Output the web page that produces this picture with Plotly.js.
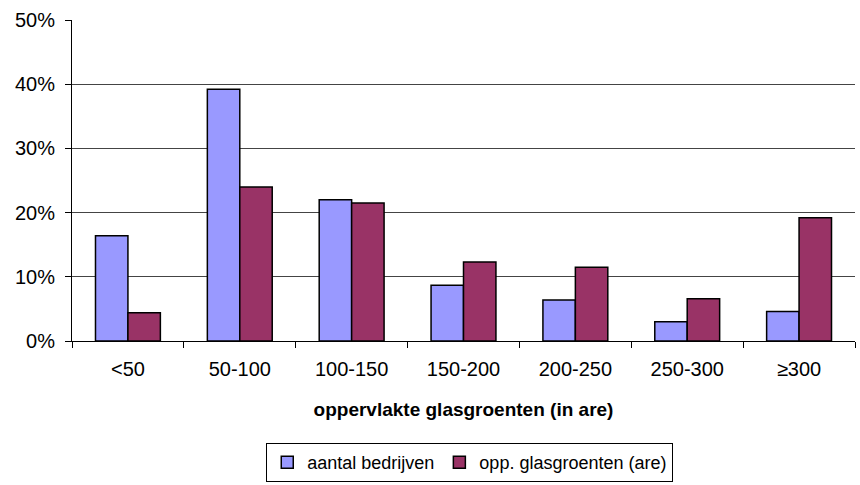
<!DOCTYPE html>
<html>
<head>
<meta charset="utf-8">
<script src="https://cdn.plot.ly/plotly-3.0.1.min.js"></script>
<style>html,body{margin:0;padding:0;background:#fff;}#chart{width:860px;height:485px;}</style>
</head>
<body>
<div id="chart"></div>
<script>
var categories = ['<50', '50-100', '100-150', '150-200', '200-250', '250-300', '≥300'];
var aantalBedrijven = [0.164, 0.392, 0.220, 0.087, 0.064, 0.030, 0.046];
var oppGlasgroenten = [0.044, 0.240, 0.215, 0.123, 0.115, 0.066, 0.192];
var seriesNames = ['aantal bedrijven', 'opp. glasgroenten (are)'];
var yTickVals = [0, 0.1, 0.2, 0.3, 0.4, 0.5];
var yTickText = ['0%', '10%', '20%', '30%', '40%', '50%'];

var traces = [
  {type: 'bar', name: seriesNames[0], x: categories, y: aantalBedrijven,
   marker: {color: '#9999ff', line: {color: '#000', width: 1.5}}},
  {type: 'bar', name: seriesNames[1], x: categories, y: oppGlasgroenten,
   marker: {color: '#993366', line: {color: '#000', width: 1.5}}}
];

var layout = {
  width: 860, height: 485,
  margin: {l: 72, r: 5, t: 20, b: 144},
  paper_bgcolor: '#fff', plot_bgcolor: '#fff',
  font: {family: 'Liberation Sans, Arial, sans-serif', size: 20, color: '#000'},
  barmode: 'group', bargap: 0.42, bargroupgap: 0,
  showlegend: true,
  legend: {orientation: 'h', x: 0.508, xanchor: 'center', yref: 'container', y: 0.006, yanchor: 'bottom',
           bordercolor: '#000', borderwidth: 1, font: {size: 18}, traceorder: 'normal',
           itemwidth: 20, tracegroupgap: 0},
  xaxis: {type: 'category', showline: true, linecolor: '#000', linewidth: 1,
          ticks: 'outside', tickson: 'boundaries', ticklen: 6, tickcolor: '#000',
          showgrid: false, tickfont: {size: 20}, automargin: false, ticklabelstandoff: 10,
          title: {text: 'oppervlakte glasgroenten (in are)', font: {size: 19, weight: 'bold'}, standoff: 23}},
  yaxis: {range: [0, 0.5], tickvals: yTickVals, ticktext: yTickText,
          showline: true, linecolor: '#000', linewidth: 1,
          ticks: 'outside', ticklen: 6, tickcolor: '#000', automargin: false, ticklabelstandoff: 6,
          showgrid: true, gridcolor: '#444', gridwidth: 1, zeroline: false,
          tickfont: {size: 20}}
};

Plotly.newPlot('chart', traces, layout, {displayModeBar: false, staticPlot: true});
</script>
</body>
</html>
